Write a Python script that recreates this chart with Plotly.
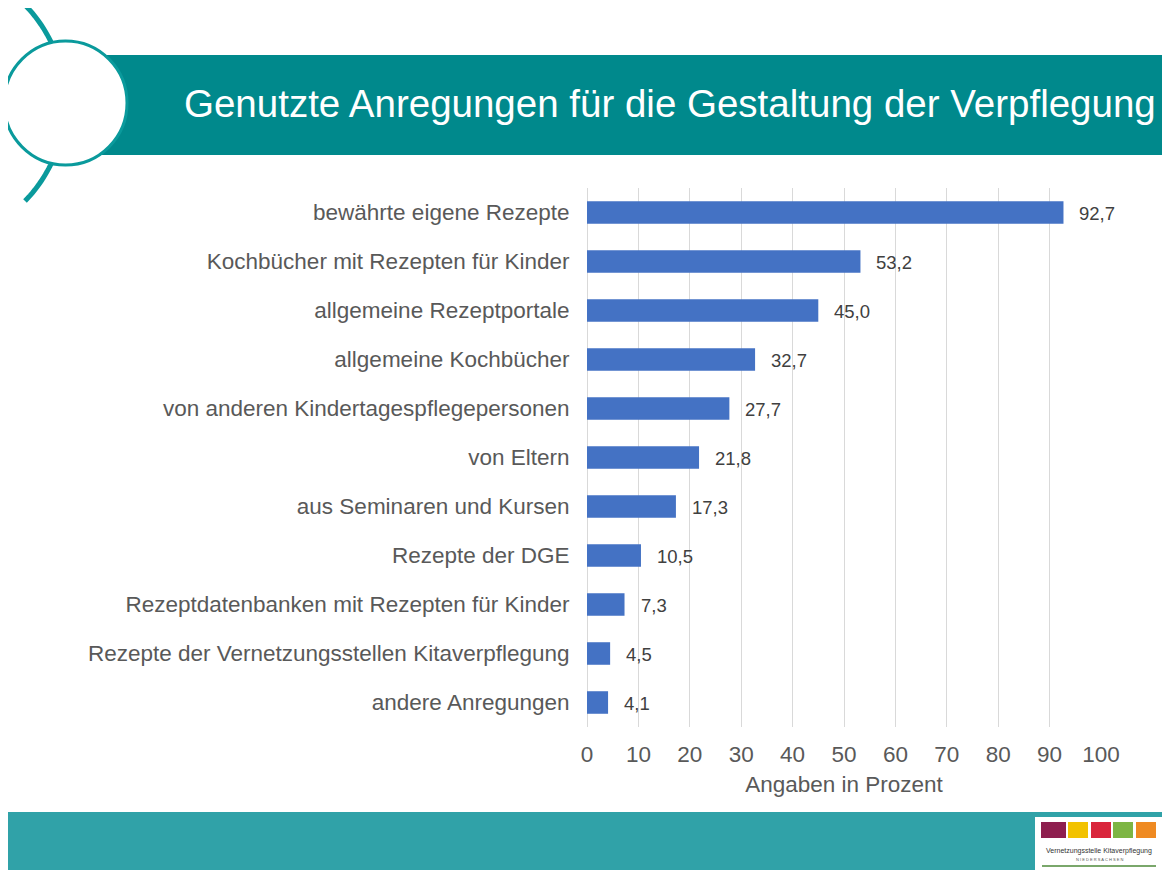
import numpy as np
import plotly.graph_objects as go

# ---- data ----
categories = [
    "bewährte eigene Rezepte",
    "Kochbücher mit Rezepten für Kinder",
    "allgemeine Rezeptportale",
    "allgemeine Kochbücher",
    "von anderen Kindertagespflegepersonen",
    "von Eltern",
    "aus Seminaren und Kursen",
    "Rezepte der DGE",
    "Rezeptdatenbanken mit Rezepten für Kinder",
    "Rezepte der Vernetzungsstellen Kitaverpflegung",
    "andere Anregungen",
]
values = [92.7, 53.2, 45.0, 32.7, 27.7, 21.8, 17.3, 10.5, 7.3, 4.5, 4.1]
x_ticks = [0, 10, 20, 30, 40, 50, 60, 70, 80, 90, 100]
title_text = "Genutzte Anregungen für die Gestaltung der Verpflegung"
axis_title = "Angaben in Prozent"

# ---- layout geometry (pixels, page coords; page has 8px body margin) ----
OFF = 8
W, H = 1170 - 2 * OFF, 878 - 2 * OFF
PL, PT, PW, PH = 587, 188, 514, 539        # plot area in page pixels
L, T = PL - OFF, PT - OFF
R, B = W - L - PW, H - T - PH

def px(x):
    return (x - PL) / PW

def py(y):
    return (PT + PH - y) / PH

TEAL = "#00898C"
TEAL_LINE = "#0A9A9C"
TEAL_LIGHT = "#30A2A8"
BAR = "#4472C4"
FONT = "Liberation Sans, Arial, sans-serif"

fig = go.Figure(go.Bar(
    x=values, y=categories, orientation="h",
    marker=dict(color=BAR, line=dict(width=0)),
    width=0.46, hoverinfo="skip",
))

annotations = []
for c, v in zip(categories, values):
    annotations.append(dict(
        x=v, y=c, xref="x", yref="y", text=f"{v:.1f}".replace(".", ","),
        showarrow=False, xanchor="left", yanchor="middle", xshift=14, yshift=-1,
        font=dict(family=FONT, size=18.5, color="#404040"),
    ))

# title
annotations.append(dict(
    x=px(182), y=py(103), xref="paper", yref="paper", text=title_text,
    showarrow=False, xanchor="left", yanchor="middle",
    font=dict(family=FONT, size=38.5, color="white"),
))

# logo texts
annotations.append(dict(
    x=px(1099), y=py(851), xref="paper", yref="paper",
    text="Vernetzungsstelle Kitaverpflegung", showarrow=False,
    xanchor="center", yanchor="middle",
    font=dict(family=FONT, size=7, color="#333333"),
))
annotations.append(dict(
    x=px(1099), y=py(859), xref="paper", yref="paper",
    text="N I E D E R S A C H S E N", showarrow=False,
    xanchor="center", yanchor="middle",
    font=dict(family=FONT, size=4, color="#555555"),
))

shapes = []
# decorative arc
ang = np.linspace(-0.775, 0.775, 60)
cx, cy, r = -75, 103, 140
xs = cx + r * np.cos(ang)
ys = cy + r * np.sin(ang)
path = "M " + " L ".join(f"{px(a):.5f},{py(b):.5f}" for a, b in zip(xs, ys))
shapes.append(dict(type="path", path=path, xref="paper", yref="paper",
                   line=dict(color=TEAL_LINE, width=5)))
# header band
shapes.append(dict(type="rect", xref="paper", yref="paper",
                   x0=px(65), x1=px(1175), y0=py(55), y1=py(155),
                   fillcolor=TEAL, line=dict(width=0)))
# circle
shapes.append(dict(type="circle", xref="paper", yref="paper",
                   x0=px(4), x1=px(127), y0=py(41), y1=py(165),
                   fillcolor="white", line=dict(color=TEAL_LINE, width=3)))
# bottom band
shapes.append(dict(type="rect", xref="paper", yref="paper",
                   x0=px(0), x1=px(1175), y0=py(812), y1=py(882),
                   fillcolor=TEAL_LIGHT, line=dict(width=0)))
# logo
shapes.append(dict(type="rect", xref="paper", yref="paper",
                   x0=px(1035), x1=px(1165), y0=py(817), y1=py(870),
                   fillcolor="white", line=dict(width=0)))
for x0, x1, col in [(1041, 1066, "#8E1F4F"), (1068, 1088, "#F2C200"),
                    (1091, 1111, "#D9263C"), (1113, 1133, "#7DB544"),
                    (1136, 1156, "#EF8A22")]:
    shapes.append(dict(type="rect", xref="paper", yref="paper",
                       x0=px(x0), x1=px(x1), y0=py(822), y1=py(838),
                       fillcolor=col, line=dict(width=0)))
shapes.append(dict(type="line", xref="paper", yref="paper",
                   x0=px(1042), x1=px(1156), y0=py(866), y1=py(866),
                   line=dict(color="#4E8A3A", width=1.5)))

fig.update_layout(
    width=W, height=H,
    margin=dict(l=L, r=R, t=T, b=B, autoexpand=False),
    paper_bgcolor="white", plot_bgcolor="white",
    showlegend=False, bargap=0.54,
    font=dict(family=FONT, color="#595959"),
    annotations=annotations, shapes=shapes,
    xaxis=dict(
        range=[0, 100], tickvals=x_ticks, ticktext=[str(t) for t in x_ticks],
        showgrid=True, gridcolor="#D9D9D9", gridwidth=1,
        zeroline=True, zerolinecolor="#D9D9D9", zerolinewidth=1,
        showline=False, ticks="outside", ticklen=7, tickcolor="rgba(0,0,0,0)",
        tickfont=dict(family=FONT, size=22.5, color="#595959"),
        title=dict(text=axis_title, standoff=10,
                   font=dict(family=FONT, size=22.5, color="#595959")),
        fixedrange=True,
    ),
    yaxis=dict(
        autorange="reversed", showgrid=False, zeroline=False, showline=False,
        ticks="outside", ticklen=12, tickcolor="rgba(0,0,0,0)",
        tickfont=dict(family=FONT, size=22.5, color="#595959"),
        fixedrange=True,
    ),
)

fig.write_html("out.html")
